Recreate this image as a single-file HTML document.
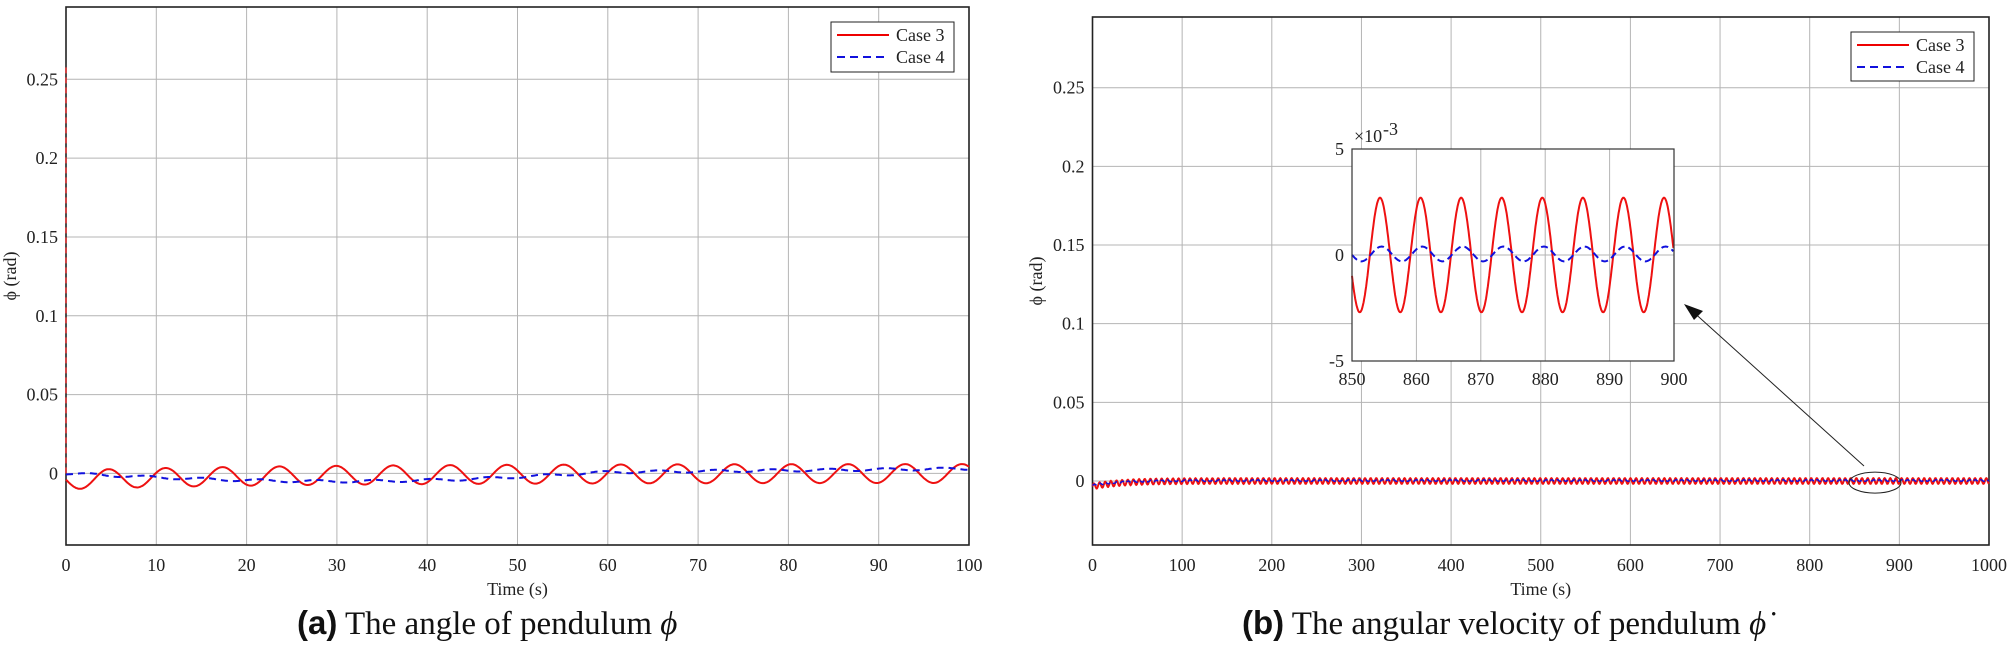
<!DOCTYPE html>
<html><head><meta charset="utf-8"><style>
body{margin:0;background:#fff;}
svg{display:block;font-family:"Liberation Serif",serif;}
.t{font-size:18px;fill:#222;}
.g{stroke:#b4b4b4;stroke-width:1;}
</style></head><body>
<svg id="s" width="2013" height="658" xmlns="http://www.w3.org/2000/svg">
<rect width="2013" height="658" fill="#fff"/>
<g id="L"></g><g id="R"></g>
<text x="297" y="634" font-size="33" fill="#111"><tspan font-family="Liberation Sans,sans-serif" font-weight="bold">(a)</tspan> The angle of pendulum <tspan font-style="italic">ϕ</tspan></text>
<text x="1242" y="634" font-size="33" fill="#111"><tspan font-family="Liberation Sans,sans-serif" font-weight="bold">(b)</tspan> The angular velocity of pendulum <tspan font-style="italic">ϕ̇</tspan></text>
</svg>
<script>
const NS="http://www.w3.org/2000/svg";
function el(p,n,a,txt){const e=document.createElementNS(NS,n);for(const k in a)e.setAttribute(k,a[k]);if(txt!=null)e.textContent=txt;p.appendChild(e);return e;}
function plot(g,o){
 const {x0,x1,y0,y1,xmax,yz,y25,xl}=o;
 const X=t=>x0+(x1-x0)*t/xmax, Y=v=>yz+(y25-yz)*v/0.25;
 for(let i=0;i<=10;i++){const x=X(xmax*i/10);el(g,'line',{x1:x,y1:y0,x2:x,y2:y1,class:'g'});
  el(g,'text',{x:x,y:571,class:'t','text-anchor':'middle'},String(xmax*i/10));}
 const yl=['0','0.05','0.1','0.15','0.2','0.25'];
 for(let i=0;i<6;i++){const y=Y(i*0.05);el(g,'line',{x1:x0,y1:y,x2:x1,y2:y,class:'g'});
  el(g,'text',{x:x0-8,y:y+6,class:'t','text-anchor':'end'},yl[i]);}
 el(g,'rect',{x:x0,y:y0,width:x1-x0,height:y1-y0,fill:'none',stroke:'#222','stroke-width':1.6});
 el(g,'text',{x:(x0+x1)/2,y:595,class:'t','text-anchor':'middle','font-size':16},'Time (s)');
 el(g,'text',{transform:`translate(${xl},${(y0+y1)/2}) rotate(-90)`,class:'t','text-anchor':'middle','font-size':15},'ϕ (rad)');
 return {X,Y};
}
function path(g,pts,col,dash,w){el(g,'polyline',{points:pts.map(p=>p[0].toFixed(1)+','+p[1].toFixed(1)).join(' '),fill:'none',stroke:col,'stroke-width':w||2,'stroke-dasharray':dash||''});}
function legend(g,x,y,w,h){el(g,'rect',{x,y,width:w,height:h,fill:'#fff',stroke:'#222','stroke-width':1});
 el(g,'line',{x1:x+6,y1:y+13,x2:x+58,y2:y+13,stroke:'#e00','stroke-width':2});
 el(g,'line',{x1:x+6,y1:y+35,x2:x+58,y2:y+35,stroke:'#11d','stroke-width':2,'stroke-dasharray':'8,5'});
 el(g,'text',{x:x+65,y:y+19,class:'t','font-size':17.5},'Case 3');el(g,'text',{x:x+65,y:y+41,class:'t','font-size':17.5},'Case 4');}
// Left
const L=document.getElementById('L');
let a=plot(L,{x0:66,x1:969,y0:7,y1:545,xmax:100,yz:473.4,y25:79.3,xl:16});
el(L,'line',{x1:66,y1:a.Y(0),x2:66,y2:a.Y(0.26),stroke:'#e33','stroke-width':1.5,'stroke-dasharray':'6,4'});
let r=[],b=[];
for(let t=0;t<=100;t+=0.1){
 const bc=-0.005*Math.sin(Math.PI*Math.min(t,60)/60)+(t>45?0.003*(t-45)/55:0);
 const cr=-0.004*Math.exp(-t/25);
 r.push([a.X(t),a.Y(cr-0.006*Math.sin(2*Math.PI*t/6.3))]);
 b.push([a.X(t),a.Y(bc+0.0008*Math.sin(2*Math.PI*t/6.3-1))]);}
path(L,r,'#e11','',2);path(L,b,'#11d','7,5',2);
legend(L,831,22,123,50);
// Right
const R=document.getElementById('R');
let c=plot(R,{x0:1092.5,x1:1989,y0:17,y1:545,xmax:1000,yz:481,y25:87.7,xl:1042});
r=[];b=[];
for(let t=0;t<=1000;t+=0.5){
 const e=Math.exp(-t/30);
 r.push([c.X(t),c.Y(-0.0035*e+0.0018*Math.sin(2*Math.PI*t/6.3))]);
 b.push([c.X(t),c.Y(-0.003*e+0.0003+0.0005*Math.sin(2*Math.PI*t/6.3-0.5))]);}
path(R,r,'#e11','',2);path(R,b,'#11d','5,3',1.5);
legend(R,1851,32,123,49);
// inset
const ix0=1352,ix1=1674,iy0=149,iy1=361,iz=255;
el(R,'rect',{x:ix0,y:iy0,width:ix1-ix0,height:iy1-iy0,fill:'#fff'});
const IX=t=>ix0+(ix1-ix0)*(t-850)/50, IY=v=>iz-(iy1-iy0)/2*v/5e-3;
for(let k=0;k<=5;k++){const x=IX(850+k*10);el(R,'line',{x1:x,y1:iy0,x2:x,y2:iy1,class:'g',stroke:'#ddd'});
 el(R,'text',{x:x,y:iy1+24,class:'t','text-anchor':'middle'},String(850+k*10));}
el(R,'line',{x1:ix0,y1:iz,x2:ix1,y2:iz,class:'g'});
el(R,'text',{x:ix0-8,y:iy0+6,class:'t','text-anchor':'end'},'5');
el(R,'text',{x:ix0-8,y:iz+6,class:'t','text-anchor':'end'},'0');
el(R,'text',{x:ix0-8,y:iy1+6,class:'t','text-anchor':'end'},'-5');
el(R,'text',{x:ix0+2,y:iy0-7,class:'t','font-size':15},'×10');
el(R,'text',{x:ix0+31,y:iy0-14,class:'t','font-size':11},'-3');
r=[];b=[];
for(let t=850;t<=900;t+=0.1){
 r.push([IX(t),IY(-2.7e-3*Math.cos(2*Math.PI*(t-851.2)/6.3))]);
 b.push([IX(t),IY(0.05e-3+0.35e-3*Math.cos(2*Math.PI*(t-854.6)/6.3))]);}
path(R,r,'#e11','',2);path(R,b,'#11d','7,4',2);
el(R,'rect',{x:ix0,y:iy0,width:ix1-ix0,height:iy1-iy0,fill:'none',stroke:'#333','stroke-width':1.2});
// arrow
el(R,'line',{x1:1864,y1:466,x2:1690,y2:309,stroke:'#222','stroke-width':1});
el(R,'polygon',{points:'1684,304 1703,311 1694,320',fill:'#111'});
el(R,'ellipse',{cx:1875,cy:482.6,rx:26,ry:10.5,fill:'none',stroke:'#222','stroke-width':1});
</script>
</body></html>
